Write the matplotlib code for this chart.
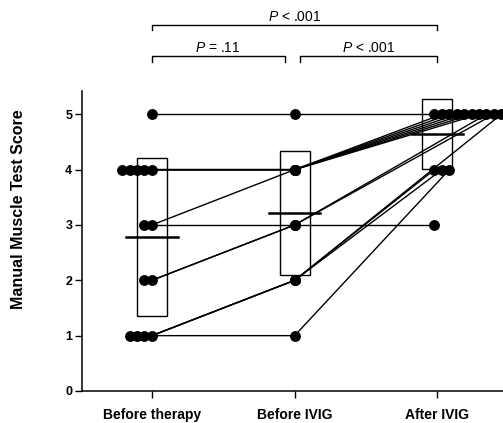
import numpy as np
import matplotlib
matplotlib.use("Agg")
import matplotlib.pyplot as plt

plt.rcParams['font.family'] = ['Liberation Sans', 'DejaVu Sans']
plt.rcParams['mathtext.fontset'] = 'custom'
plt.rcParams['mathtext.it'] = 'Liberation Sans:italic'
plt.rcParams['mathtext.rm'] = 'Liberation Sans'

# one value per patient, same order in every list
before_therapy = [5, 4, 4, 4, 4, 4, 3, 3, 2, 2, 1, 1, 1, 1]
before_ivig    = [5, 4, 4, 4, 4, 4, 4, 3, 3, 3, 2, 2, 2, 1]
after_ivig     = [5, 5, 5, 5, 5, 5, 5, 3, 5, 5, 4, 4, 5, 4]

groups = ["Before therapy", "Before IVIG", "After IVIG"]
yticks = [0, 1, 2, 3, 4, 5]

# significance brackets: (from group, to group, label)
comparisons = [(0, 0.93, "$P$ = .11"), (1.04, 2, "$P$ < .001"), (0, 2, "$P$ < .001")]
bracket_levels = [6.05, 6.05, 6.62]

data = np.array([before_therapy, before_ivig, after_ivig], dtype=float)
n_groups, n_pat = data.shape

# dodge repeated scores sideways (left for first group, right for last)
step = 0.052
direction = [-1, 0, 1]
xpos = np.zeros_like(data)
for g in range(n_groups):
	# order within a cluster: patients sorted by their previous score, high first
	prev = data[g - 1] if g > 0 else np.zeros(n_pat)
	for v in np.unique(data[g]):
		idx = [i for i in np.argsort(-prev, kind="stable") if data[g, i] == v]
		for k, i in enumerate(idx):
			xpos[g, i] = g - 0.02 * (g == 2) + direction[g] * k * step

fig = plt.figure(figsize=(5.03, 4.23), dpi=100)
ax = fig.add_axes([0.163, 0.0757, 0.837, 0.709])

# patient lines (start at group centre, end at dodged dot)
for i in range(n_pat):
	xs = [0, 1, xpos[2, i]]
	ax.plot(xs, data[:, i], color="black", lw=1.0, zorder=2)

for g in range(n_groups):
	ax.plot(xpos[g], data[g], "o", color="black", ms=6.8, zorder=3)

# mean +/- SD boxes and mean bars
box_w = 0.21
bar_w = 0.36
for g in range(n_groups):
	m = data[g].mean()
	sd = data[g].std(ddof=1)
	ax.add_patch(plt.Rectangle((g - box_w / 2, m - sd), box_w, 2 * sd,
		fill=False, edgecolor="black", lw=1.0, zorder=4))
	ax.plot([g - bar_w / 2, g + bar_w / 2], [m, m], color="black", lw=1.8, zorder=4)

for (a, b, label), lev in zip(comparisons, bracket_levels):
	ax.plot([a, a, b, b], [lev - 0.1, lev, lev, lev - 0.1], color="black", lw=1.0, clip_on=False)
	ax.text((a + b) / 2, lev + 0.02, label, ha="center", va="bottom", fontsize=10)

ax.set_xlim(-0.49, 2.46)
ax.set_ylim(0, 5.42)
ax.set_xticks(range(n_groups))
ax.set_xticklabels(groups, fontsize=10, fontweight="bold")
ax.set_yticks(yticks)
ax.set_yticklabels([str(t) for t in yticks], fontsize=9, fontweight="bold")
ax.tick_params(axis="x", length=5, pad=7, width=1.0)
ax.tick_params(axis="y", length=5, pad=2, width=1.0)
for s in ["left", "bottom"]:
	ax.spines[s].set_linewidth(1.1)
ax.spines["top"].set_visible(False)
ax.spines["right"].set_visible(False)
ax.set_ylabel("Manual Muscle Test Score", fontsize=11.5, fontweight="bold")
ax.yaxis.set_label_coords(-0.132, 0.607)

plt.savefig("out.png", dpi=100)
